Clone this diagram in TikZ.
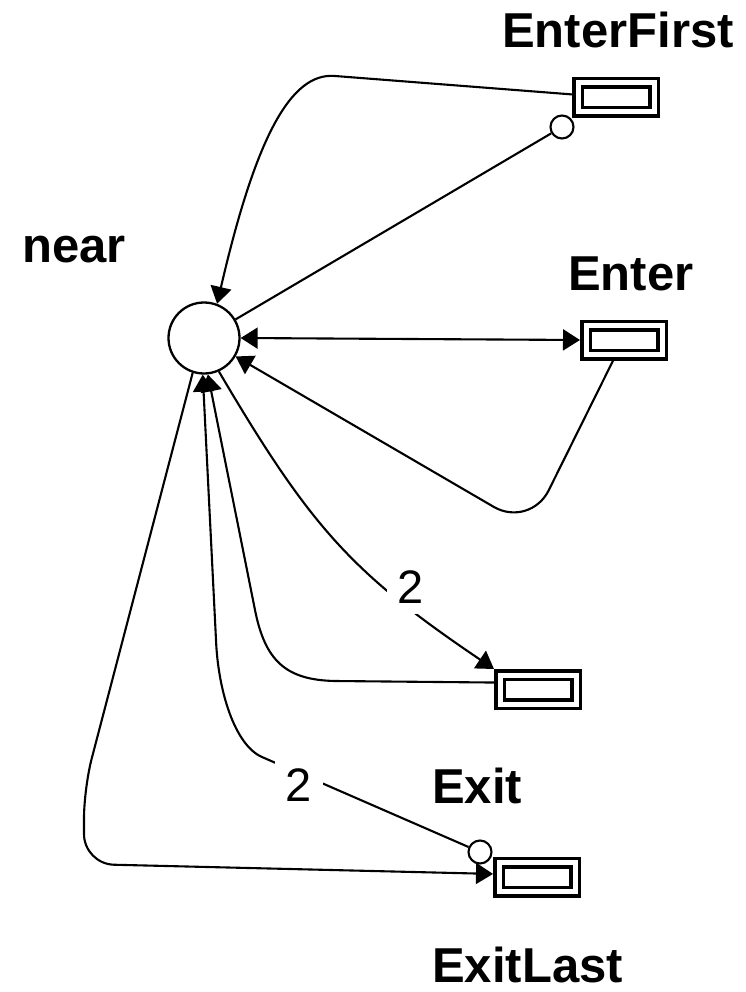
\documentclass[tikz,border=0pt]{standalone}
\usepackage{fontspec}
\setmainfont{Liberation Sans}
\usepackage{tkz-euclide}
\usetikzlibrary{arrows.meta,calc}
\definecolor{NetClr}{RGB}{0,0,0}

\tikzset{
  >={Triangle[length=17pt,width=21pt]},
  pnplace/.style={circle,draw=NetClr,line width=2.3pt,minimum size=71pt,inner sep=0pt},
  pntrans/.style={rectangle,draw=NetClr,double=white,double distance=5pt,line width=3.5pt,
    minimum width=76pt,minimum height=29pt,inner sep=0pt,outer sep=6pt},
  pninhib/.style={circle,draw=NetClr,line width=2.1pt,minimum size=23pt,inner sep=0pt},
  pnarc/.style={draw=NetClr,line width=2.1pt,->},
  pnline/.style={draw=NetClr,line width=2.1pt},
  pnlabel/.style={anchor=base west,inner sep=0pt,font=\fontsize{49}{49}\selectfont\bfseries},
  pnweight/.style={fill=white,inner sep=11pt,font=\fontsize{47}{47}\selectfont},
}

\begin{document}
\begin{tikzpicture}[x=1pt,y=-1pt]
\useasboundingbox (0,0) rectangle (745,992);

\tkzDefPoints{204/338/P,616/97.5/TEF,624/340/TE,538/689.5/TX,537/877/TXL}
\tkzDefPoints{562/127/IEF,480/852/IXL}

% place and transitions
\node[pnplace] (near) at (P) {};
\node[pntrans] (enterfirst) at (TEF) {};
\node[pntrans] (enter) at (TE) {};
\node[pntrans] (exit) at (TX) {};
\node[pntrans] (exitlast) at (TXL) {};

% inhibitor ends
\node[pninhib] (inhEF) at (IEF) {};
\node[pninhib] (inhXL) at (IXL) {};

% arcs
\draw[pnarc] (enterfirst.176) -- (335,76) .. controls (290,72) and (255,140) .. (near.69);
\draw[pnline] (near) -- (inhEF);
\draw[pnarc,<->] (near.east) -- (enter.west);
\draw[pnarc,rounded corners=42pt] (enter.-118) -- (530,528) -- (near);
\draw[pnarc] (near.-66) .. controls (311,528) and (352,573) .. (exit.north west);
\draw[pnarc] (exit.171) -- (335,681) .. controls (285,680) and (265,660) .. (255,610) -- (near.-84);
\draw[pnarc,rounded corners=30pt] (near.-108) -- (84,788) -- (84,864) -- (exitlast.176);
\draw[pnarc] (inhXL) -- (262,757) .. controls (234.5,745) and (218,690) .. (216,640) -- (near.-92);

% weights
\node[pnweight] (w1) at (411,587) {2};
\node[pnweight] (w2) at (299,785) {2};

% names
\node[pnlabel] (lnear) at (22,262) {near};
\node[pnlabel] (lenterfirst) at (502,48) {EnterFirst};
\node[pnlabel] (lenter) at (568,290) {Enter};
\node[pnlabel] (lexit) at (432,803) {Exit};
\node[pnlabel] (lexitlast) at (432,982) {ExitLast};

\end{tikzpicture}
\end{document}
